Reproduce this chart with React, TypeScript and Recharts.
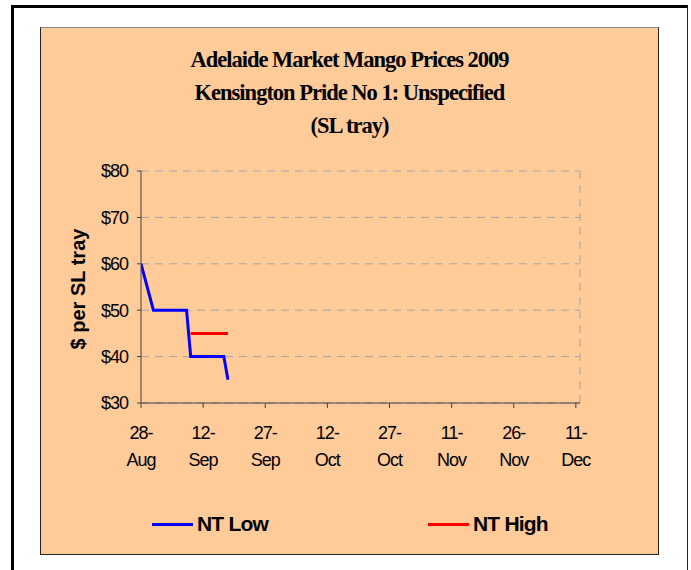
import React from 'react'
import {
  LineChart, Line, XAxis, YAxis, CartesianGrid, ReferenceLine,
} from 'recharts'

const startDate = '2009-08-28'

const lowDates = ['2009-08-28', '2009-08-31', '2009-09-08', '2009-09-09', '2009-09-17', '2009-09-18']
const lowPrices = [60, 50, 50, 40, 40, 35]

const highDates = ['2009-09-09', '2009-09-18']
const highPrices = [45, 45]

const tickDates = ['2009-08-28', '2009-09-12', '2009-09-27', '2009-10-12', '2009-10-27', '2009-11-11', '2009-11-26', '2009-12-11']
const tickLabels = ['28-\nAug', '12-\nSep', '27-\nSep', '12-\nOct', '27-\nOct', '11-\nNov', '26-\nNov', '11-\nDec']
const axisEndDate = '2009-12-12'

const yTicks = [30, 40, 50, 60, 70, 80]

function dayOf(s: string): number {
  return (Date.parse(s) - Date.parse(startDate)) / 86400000
}

const lowData = lowDates.map((d, i) => ({ day: dayOf(d), low: lowPrices[i] }))
const highData = highDates.map((d, i) => ({ day: dayOf(d), high: highPrices[i] }))
const tickDays = tickDates.map(dayOf)
const maxDay = dayOf(axisEndDate)

const sans = 'Arial, "Liberation Sans", sans-serif'
const serif = '"Times New Roman", "Liberation Serif", serif'

function XTick(props: any) {
  const { x, y, payload } = props
  const idx = tickDays.indexOf(payload.value)
  const [a, b] = (tickLabels[idx] || '').split('\n')
  return (
    <text x={x} y={y} textAnchor="middle" fontSize={18} fontFamily={sans} fill="#000" letterSpacing={-1}>
      <tspan x={x} y={y + 29}>{a}</tspan>
      <tspan x={x} y={y + 56}>{b}</tspan>
    </text>
  )
}

export default function App() {
  return (
    <div style={{ position: 'absolute', left: 0, top: 0, width: 691, height: 570, overflow: 'hidden', background: '#fff' }}>
      <div style={{
        position: 'absolute', left: 11, top: 5, width: 673, height: 600,
        borderLeft: '3px solid #000', borderTop: '3px solid #000', borderRight: '1px solid #222',
      }} />
      <div style={{
        position: 'absolute', left: 40, top: 27, width: 617, height: 526,
        background: '#FFCC99', border: '1px solid #222', borderTopColor: '#888',
      }} />
      <div style={{
        position: 'absolute', left: 40, top: 43, width: 619, textAlign: 'center',
        fontFamily: serif, fontWeight: 'bold', fontSize: 22.5, lineHeight: '33px', letterSpacing: -1, color: '#000',
      }}>
        <div>Adelaide Market Mango Prices 2009</div>
        <div>Kensington Pride No 1: Unspecified</div>
        <div>(SL tray)</div>
      </div>
      <div style={{
        position: 'absolute', left: 78, top: 289, width: 200, marginLeft: -100, marginTop: -12,
        height: 24, lineHeight: '24px', textAlign: 'center', transform: 'rotate(-90deg)',
        fontFamily: sans, fontWeight: 'bold', fontSize: 20, color: '#000',
      }}>
        $ per SL tray
      </div>
      <div style={{ position: 'absolute', left: 0, top: 0 }}>
        <LineChart width={691} height={570} margin={{ top: 171, right: 111, bottom: 107, left: 81 }}>
          <CartesianGrid vertical={false} stroke="#A6A6A6" strokeDasharray="8 6" />
          <ReferenceLine x={maxDay} stroke="#A6A6A6" strokeDasharray="8 6" />
          <XAxis
            type="number"
            dataKey="day"
            domain={[0, maxDay]}
            ticks={tickDays}
            interval={0}
            allowDataOverflow
            height={60}
            stroke="#404040"
            tickSize={5}
            tickMargin={2}
            tick={<XTick />}
          />
          <YAxis
            domain={[30, 80]}
            ticks={yTicks}
            interval={0}
            width={60}
            stroke="#404040"
            tickSize={4}
            tickMargin={9}
            tickFormatter={(v) => `$${v}`}
            tick={{ fontSize: 18, fontFamily: sans, fill: '#000', letterSpacing: -1 }}
          />
          <Line data={lowData} type="linear" dataKey="low" stroke="#0000FF" strokeWidth={3} dot={false} isAnimationActive={false} />
          <Line data={highData} type="linear" dataKey="high" stroke="#FF0000" strokeWidth={3} dot={false} isAnimationActive={false} />
        </LineChart>
      </div>
      <div style={{ position: 'absolute', left: 152, top: 511, height: 26, display: 'flex', alignItems: 'center', fontFamily: sans, fontWeight: 'bold', fontSize: 21, letterSpacing: -0.8 }}>
        <span style={{ display: 'inline-block', width: 41, height: 3, background: '#0000FF', marginRight: 4 }} />
        NT Low
      </div>
      <div style={{ position: 'absolute', left: 428, top: 511, height: 26, display: 'flex', alignItems: 'center', fontFamily: sans, fontWeight: 'bold', fontSize: 21, letterSpacing: -0.8 }}>
        <span style={{ display: 'inline-block', width: 41, height: 3, background: '#FF0000', marginRight: 4 }} />
        NT High
      </div>
    </div>
  )
}
